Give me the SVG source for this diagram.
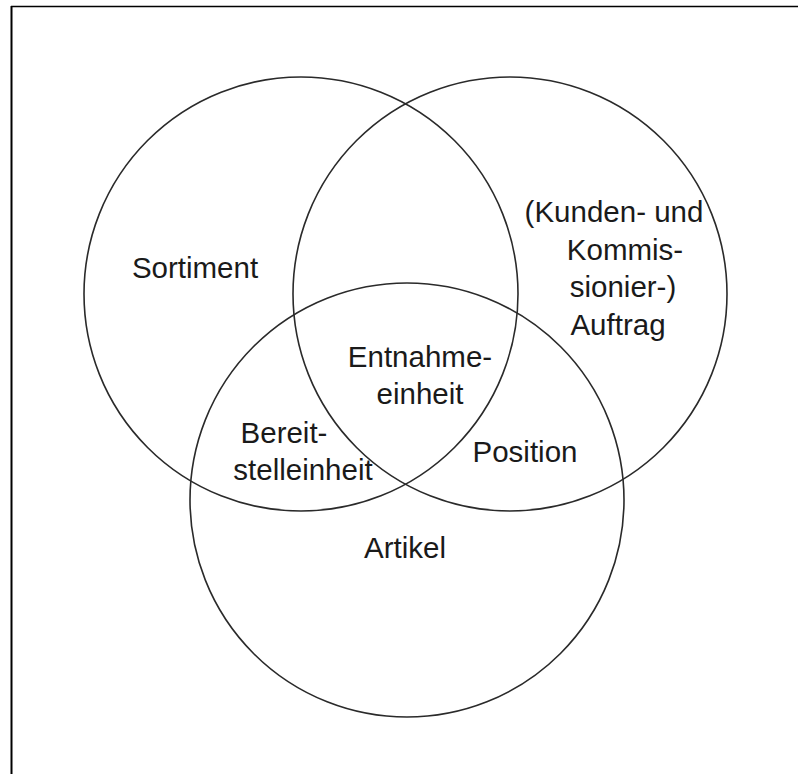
<svg xmlns="http://www.w3.org/2000/svg" width="798" height="774" viewBox="0 0 798 774">
<style>
.c{fill:none;stroke:#2a2a2a;stroke-width:1.6}
.t{font-family:"Liberation Sans","Open Sans",Arial,sans-serif;font-size:29.5px;fill:#1a1a1a;text-anchor:middle}
</style>
<rect width="798" height="774" fill="#fff"/>
<g id="frame">
<line x1="11.5" y1="6" x2="11.5" y2="774" stroke="#000" stroke-width="2"/>
<line x1="11" y1="6.5" x2="798" y2="6.5" stroke="#000" stroke-width="1.3"/>
</g>
<g id="sortiment">
<circle class="c" cx="301" cy="294" r="217"/>
<text class="t" x="195" y="278">Sortiment</text>
</g>
<g id="auftrag">
<circle class="c" cx="510" cy="294" r="217"/>
<text class="t" x="614" y="222">(Kunden- und</text>
<text class="t" x="625" y="260">Kommis-</text>
<text class="t" x="623" y="297">sionier-)</text>
<text class="t" x="618" y="335">Auftrag</text>
</g>
<g id="artikel">
<circle class="c" cx="407" cy="500" r="217"/>
<text class="t" x="405" y="558">Artikel</text>
</g>
<g id="entnahmeeinheit">
<text class="t" x="420" y="367">Entnahme-</text>
<text class="t" x="420" y="404">einheit</text>
</g>
<g id="bereitstelleinheit">
<text class="t" x="284" y="443">Bereit-</text>
<text class="t" x="303" y="480">stelleinheit</text>
</g>
<g id="position">
<text class="t" x="525" y="462">Position</text>
</g>
</svg>
